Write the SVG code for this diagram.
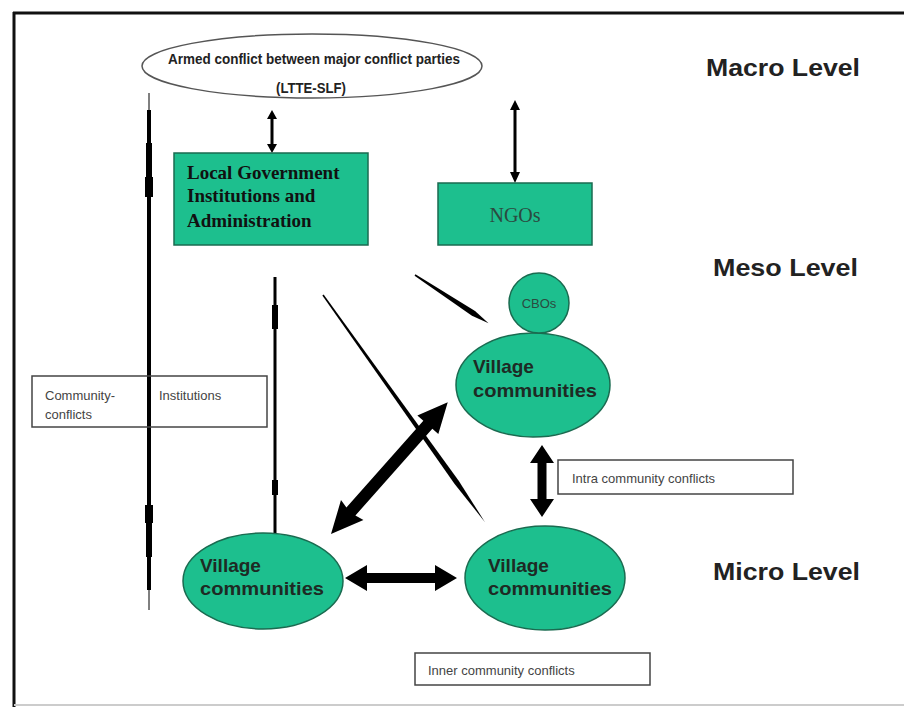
<svg xmlns="http://www.w3.org/2000/svg" width="904" height="707" viewBox="0 0 904 707">
<style>
.green{fill:#1dbf8e;stroke:#1a6b50;stroke-width:1.5}
.lvl{font-family:"Liberation Sans",Arial,sans-serif;font-weight:bold;font-size:24px;fill:#222}
.vil{font-family:"Liberation Sans",Arial,sans-serif;font-weight:bold;font-size:19px;fill:#1e2a24}
.box{fill:#fff;stroke:#444;stroke-width:1.5}
.small{font-family:"Liberation Sans",Arial,sans-serif;font-size:13px;fill:#444}
.conn{fill:#000;stroke:none}
.ln{stroke:#000;fill:none}
</style>
<rect width="904" height="707" fill="#fff"/>
<g id="frame">
<line x1="14" y1="12" x2="14" y2="707" stroke="#111" stroke-width="3"/>
<line x1="13" y1="13" x2="904" y2="13" stroke="#111" stroke-width="3"/>
<line x1="14" y1="705" x2="904" y2="705" stroke="#ccc" stroke-width="2"/>
</g>
<g id="connectors">
<!-- long left vertical -->
<line class="ln" x1="149" y1="93" x2="149" y2="610" stroke="#777" stroke-width="1"/>
<line class="ln" x1="149" y1="110" x2="149" y2="590" stroke-width="4"/>
<line class="ln" x1="149" y1="143" x2="149" y2="177" stroke-width="6"/>
<rect class="conn" x="145" y="177" width="8" height="20"/>
<rect class="conn" x="145" y="505" width="8" height="18"/>
<line class="ln" x1="149" y1="523" x2="149" y2="557" stroke-width="6"/>
<!-- vertical under LGIA -->
<line class="ln" x1="275" y1="277" x2="275" y2="534" stroke-width="3"/>
<rect class="conn" x="272" y="305" width="6" height="24"/>
<rect class="conn" x="272" y="480" width="6" height="15"/>
<!-- ellipse to LGIA -->
<polygon class="conn" points="272,110 277,119 273.5,119 273.5,144 277,144 272,153 267,144 270.5,144 270.5,119 267,119"/>
<!-- ellipse to NGOs -->
<polygon class="conn" points="515,100 520,110 516.5,110 516.5,172 520,172 515,183 510,172 513.5,172 513.5,110 510,110"/>
<!-- thin diagonal to CBO/village -->
<g transform="translate(415,275) rotate(33.3)"><polygon class="conn" points="0,-0.8 70,-2.8 88,0 70,2.8 0,0.8"/></g>
<!-- crossing diagonal -->
<g transform="translate(323,295) rotate(54.5)"><polygon class="conn" points="0,-0.8 230,-2.6 279,0 230,2.6 0,0.8"/></g>
<!-- big diagonal double arrow -->
<g transform="translate(331,534) rotate(-48.45)"><polygon class="conn" points="0,0 32,-15 30,-6 146,-6 146,-14 176,0 146,14 146,6 30,6 32,15"/></g>
<!-- horizontal double arrow -->
<polygon class="conn" points="345,578 367,565 367,573 435,573 435,565 457,578 435,591 435,583 367,583 367,591"/>
<!-- vertical double arrow -->
<polygon class="conn" points="542,445 554,463 546.5,463 546.5,499 554,499 542,517 530,499 537.5,499 537.5,463 530,463"/>
</g>
<g id="armed-conflict">
<ellipse cx="312" cy="66" rx="170" ry="32" fill="#fff" stroke="#555" stroke-width="1.5"/>
<text x="314" y="64" text-anchor="middle" font-family="'Liberation Sans',Arial,sans-serif" font-weight="bold" font-size="15" fill="#222" textLength="292" lengthAdjust="spacingAndGlyphs">Armed conflict between major conflict parties</text>
<text x="311" y="93" text-anchor="middle" font-family="'Liberation Sans',Arial,sans-serif" font-weight="bold" font-size="15" fill="#222" textLength="70" lengthAdjust="spacingAndGlyphs">(LTTE-SLF)</text>
</g>
<g id="lgia">
<rect class="green" x="174" y="153" width="194" height="92"/>
<g font-family="'Liberation Serif','Times New Roman',serif" font-weight="bold" font-size="19" fill="#111">
<text x="187" y="179">Local Government</text>
<text x="187" y="202">Institutions and</text>
<text x="187" y="227">Administration</text>
</g>
</g>
<g id="ngos">
<rect class="green" x="438" y="183" width="154" height="62"/>
<text x="515" y="222" text-anchor="middle" font-family="'Liberation Serif','Times New Roman',serif" font-size="20" fill="#2b4a40">NGOs</text>
</g>
<g id="village-upper">
<ellipse class="green" cx="533" cy="385" rx="77" ry="52"/>
<text class="vil" x="473" y="373">Village</text>
<text class="vil" x="473" y="397" textLength="124" lengthAdjust="spacingAndGlyphs">communities</text>
</g>
<g id="cbos">
<circle class="green" cx="539" cy="303" r="30"/>
<text x="539" y="308" text-anchor="middle" font-family="'Liberation Sans',Arial,sans-serif" font-size="13" fill="#2b4a40">CBOs</text>
</g>
<g id="village-left">
<ellipse class="green" cx="263" cy="581" rx="80" ry="48"/>
<text class="vil" x="200" y="572">Village</text>
<text class="vil" x="200" y="595" textLength="124" lengthAdjust="spacingAndGlyphs">communities</text>
</g>
<g id="village-right">
<ellipse class="green" cx="545" cy="578" rx="80" ry="52"/>
<text class="vil" x="488" y="572">Village</text>
<text class="vil" x="488" y="595" textLength="124" lengthAdjust="spacingAndGlyphs">communities</text>
</g>
<g id="box-community">
<rect class="box" x="32" y="376" width="235" height="51" fill-opacity="0"/>
<text class="small" x="45" y="400">Community-</text>
<text class="small" x="45" y="419">conflicts</text>
<text class="small" x="159" y="400">Institutions</text>
</g>
<g id="box-intra">
<rect class="box" x="558" y="460" width="235" height="34"/>
<text class="small" x="572" y="483">Intra community conflicts</text>
</g>
<g id="box-inner">
<rect class="box" x="415" y="653" width="235" height="32"/>
<text class="small" x="428" y="675">Inner community conflicts</text>
</g>
<g id="levels">
<text class="lvl" x="706" y="76" textLength="154" lengthAdjust="spacingAndGlyphs">Macro Level</text>
<text class="lvl" x="713" y="276" textLength="145" lengthAdjust="spacingAndGlyphs">Meso Level</text>
<text class="lvl" x="713" y="580" textLength="147" lengthAdjust="spacingAndGlyphs">Micro Level</text>
</g>
</svg>
